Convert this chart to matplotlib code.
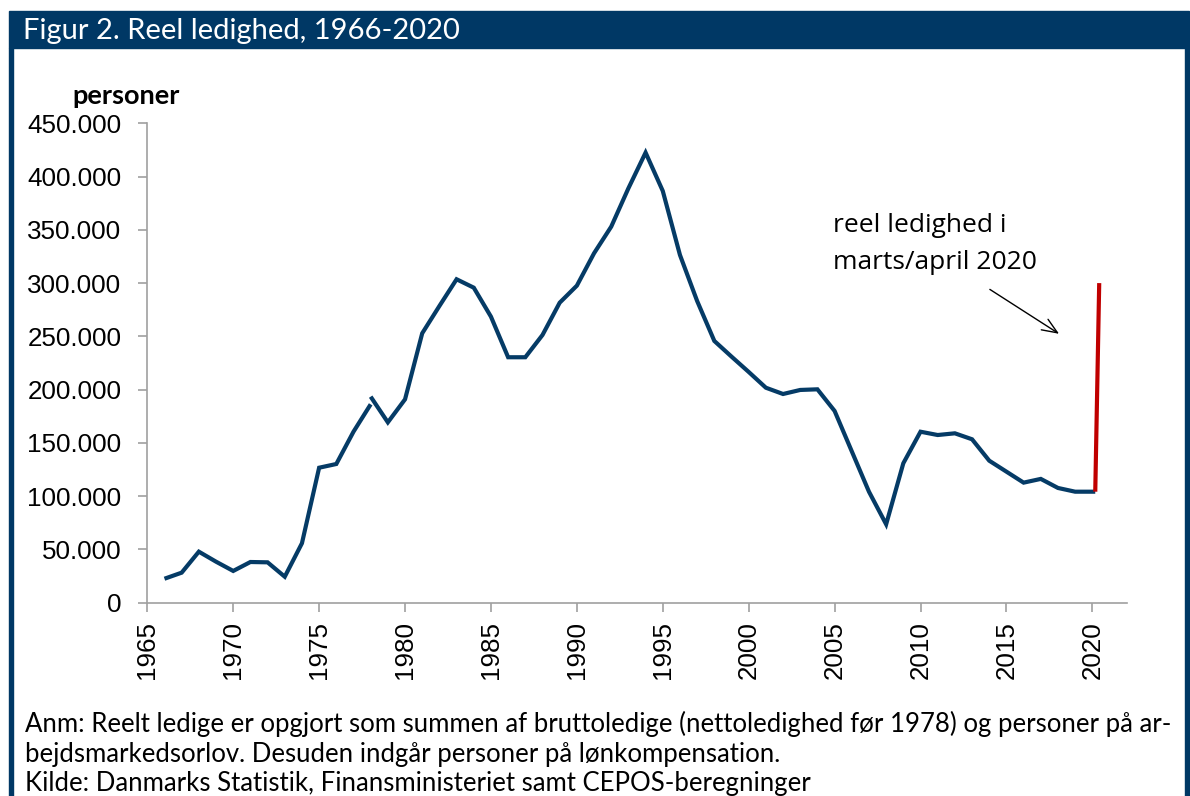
import matplotlib
matplotlib.use("Agg")
import matplotlib.pyplot as plt
from matplotlib.patches import Rectangle
from matplotlib.ticker import FuncFormatter, MultipleLocator

# ---- data ----
netto_years = [1966, 1967, 1968, 1969, 1970, 1971, 1972, 1973, 1974, 1975, 1976, 1977, 1978]
netto_values = [22500, 28200, 47900, 38500, 29800, 38200, 37900, 24400, 55800, 126700, 130200, 160500, 186200]

brutto_years = [1978, 1979, 1980, 1981, 1982, 1983, 1984, 1985, 1986, 1987, 1988, 1989,
                1990, 1991, 1992, 1993, 1994, 1995, 1996, 1997, 1998, 1999, 2000, 2001,
                2002, 2003, 2004, 2005, 2006, 2007, 2008, 2009, 2010, 2011, 2012, 2013,
                2014, 2015, 2016, 2017, 2018, 2019, 2020.17]
brutto_values = [193400, 169300, 190900, 252900, 278500, 303600, 295700, 268500, 230400, 230400,
                 251300, 281600, 297600, 328000, 353000, 389000, 422500, 386500, 326400, 283200,
                 245700, 231000, 216600, 201800, 195900, 199700, 200300, 180000, 142100, 104200,
                 73600, 130900, 160500, 157400, 159000, 153400, 133300, 123000, 112700, 116200,
                 107700, 104200, 104200]

covid_x = [2020.17, 2020.40]
covid_values = [104200, 300000]

x_ticks = [1965, 1970, 1975, 1980, 1985, 1990, 1995, 2000, 2005, 2010, 2015, 2020]

title = "Figur 2. Reel ledighed, 1966-2020"
y_label = "personer"
annotation = "reel ledighed i\nmarts/april 2020"
note = ("Anm: Reelt ledige er opgjort som summen af bruttoledige (nettoledighed før 1978) og personer på ar-\n"
        "bejdsmarkedsorlov. Desuden indgår personer på lønkompensation.\n"
        "Kilde: Danmarks Statistik, Finansministeriet samt CEPOS-beregninger")

# ---- style ----
FRAME = "#003865"
LINE = "#053B66"
RED = "#C00000"
W, H = 1190, 796

fig = plt.figure(figsize=(W / 100, H / 100), dpi=100)

# frame
fig.patches.append(Rectangle((9 / W, 1 - 48 / H), (1189 - 9) / W, 37 / H,
                             transform=fig.transFigure, color=FRAME, zorder=0))
fig.patches.append(Rectangle((9 / W, 0), 3.5 / W, 1 - 48 / H,
                             transform=fig.transFigure, color=FRAME, zorder=0))
fig.patches.append(Rectangle((1184.5 / W, 0), 4.5 / W, 1 - 48 / H,
                             transform=fig.transFigure, color=FRAME, zorder=0))
fig.text(23 / W, 1 - 31 / H, title, color="white", fontsize=21, family="Lato",
         ha="left", va="center")

ax = fig.add_axes([147.3 / W, 193.3 / H, (1126.7 - 147.3) / W, (602.7 - 123.3) / H])
ax.plot(netto_years, netto_values, color=LINE, lw=3.0, solid_capstyle="butt", solid_joinstyle="miter")
ax.plot(brutto_years, brutto_values, color=LINE, lw=3.0, solid_capstyle="butt", solid_joinstyle="miter")
ax.plot(covid_x, covid_values, color=RED, lw=3.0, solid_capstyle="butt")

ax.set_xlim(1965, 2022)
ax.set_ylim(0, 450000)
ax.set_xticks(x_ticks)
ax.set_xticklabels([str(t) for t in x_ticks], rotation=90, family="Liberation Sans", fontsize=18.7)
ax.yaxis.set_major_locator(MultipleLocator(50000))
ax.yaxis.set_major_formatter(FuncFormatter(lambda v, p: f"{int(v):,}".replace(",", ".")))
for lab in ax.get_yticklabels():
    lab.set_family("Liberation Sans")
    lab.set_fontsize(18.7)
for s in ["top", "right"]:
    ax.spines[s].set_visible(False)
for s in ["left", "bottom"]:
    ax.spines[s].set_color("#A0A0A0")
    ax.spines[s].set_linewidth(1.2)
ax.tick_params(axis="both", colors="#A0A0A0", length=6.5, width=1.2, labelcolor="black")
ax.tick_params(axis="y", pad=12)
ax.tick_params(axis="x", pad=7)

fig.text(72 / W, 1 - 96 / H, y_label, fontsize=19.5, fontweight="bold", family="Lato",
         ha="left", va="center")

ax.annotate("", xy=(2018.2, 251000), xytext=(2013.9, 295500),
            arrowprops=dict(arrowstyle="->,head_length=1.1,head_width=0.45", color="black", lw=1.0))
ax.text(2004.9, 366000, annotation, fontsize=19, family="Open Sans", ha="left", va="top",
        linespacing=1.65)

fig.text(25 / W, 1 - 711 / H, note, fontsize=18.5, family="Lato", ha="left", va="top",
         linespacing=1.22)

fig.savefig("out.png", dpi=100, facecolor="white")
